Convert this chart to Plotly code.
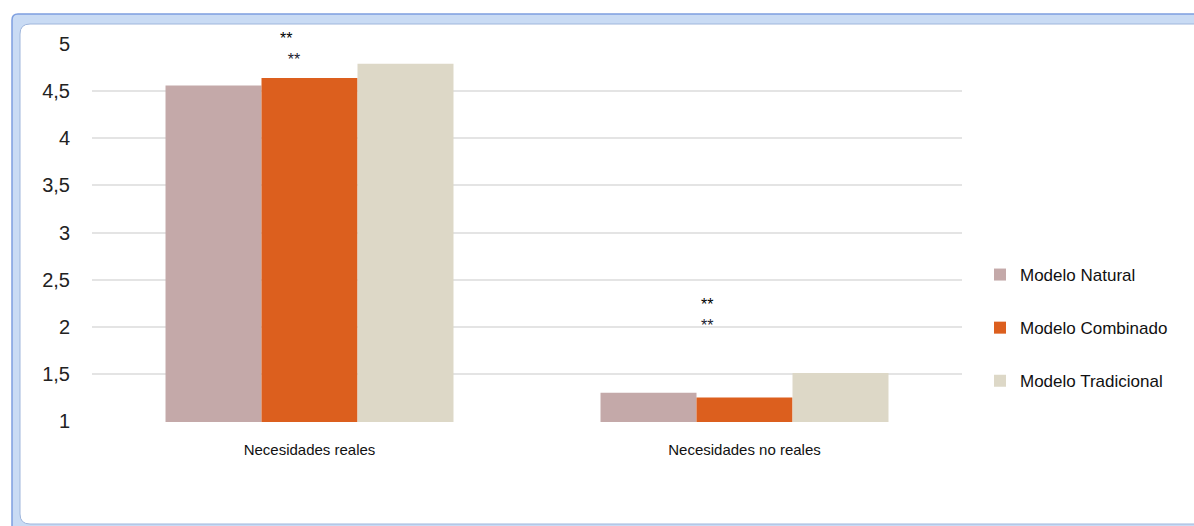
import plotly.graph_objects as go

# Chart data
categories = ["Necesidades reales", "Necesidades no reales"]
series_names = ["Modelo Natural", "Modelo Combinado", "Modelo Tradicional"]
natural = [4.56, 1.30]
combinado = [4.64, 1.25]
tradicional = [4.79, 1.51]
y_ticks = [1, 1.5, 2, 2.5, 3, 3.5, 4, 4.5, 5]

colors = ["#c4a9a9", "#dc5f1e", "#ddd8c7"]
values = [natural, combinado, tradicional]

W, H = 1194, 526
L, R, T, B = 92, 232, 43, 104
PW, PH = W - L - R, H - T - B


def px(x):
    return (x - L) / PW


def py(y):
    return (H - B - y) / PH


fig = go.Figure()
for i, (name, vals) in enumerate(zip(series_names, values)):
    fig.add_trace(go.Bar(
        x=categories, y=vals, name=name,
        marker=dict(color=colors[i], line=dict(width=0)),
        legendgroup=name,
    ))

# significance markers: two stacked "**" lines per group
star_blocks = [
    # (left x in px, block centre y in px, indent of second line)
    (278, 49.5, "&nbsp;&#8201;"),
    (699, 315.0, ""),
]
annotations = []
for sx, sy, indent in star_blocks:
    annotations.append(dict(
        x=px(sx), y=py(sy), xref="paper", yref="paper",
        xanchor="left", yanchor="middle", align="left",
        text=f"**<br>{indent}<span style='color:#1c1c30'>**</span>",
        showarrow=False,
        font=dict(family="Liberation Sans", size=16, color="#000000"),
    ))


def rounded_rect(x0, y0, x1, y1, r):
    # outline with rounded left-hand corners, converted to paper units
    pts = [
        f"M {px(x0 + r)} {py(y0)}",
        f"L {px(x1)} {py(y0)}",
        f"L {px(x1)} {py(y1)}",
        f"L {px(x0 + r)} {py(y1)}",
        f"Q {px(x0)} {py(y1)} {px(x0)} {py(y1 - r)}",
        f"L {px(x0)} {py(y0 + r)}",
        f"Q {px(x0)} {py(y0)} {px(x0 + r)} {py(y0)} Z",
    ]
    return " ".join(pts)


shapes = [
    dict(type="path", xref="paper", yref="paper", layer="below",
         path=rounded_rect(12, 14, 1210, 532, 6),
         fillcolor="#c9dbf4", line=dict(color="#7e9fe0", width=1.5)),
    dict(type="path", xref="paper", yref="paper", layer="below",
         path=rounded_rect(20, 24, 1206, 524, 10),
         fillcolor="#ffffff", line=dict(color="#9fb6dc", width=1)),
]

fig.update_layout(
    width=W, height=H,
    margin=dict(l=L, r=R, t=T, b=B),
    paper_bgcolor="#ffffff", plot_bgcolor="rgba(0,0,0,0)",
    separators=",.",
    barmode="group", bargap=0.338, bargroupgap=0,
    showlegend=True,
    legend=dict(
        x=px(980), y=py(257), xanchor="left", yanchor="top",
        font=dict(family="Liberation Sans", size=17, color="#111111"),
        traceorder="grouped", tracegroupgap=28,
        itemwidth=30, bgcolor="rgba(0,0,0,0)",
    ),
    xaxis=dict(
        showgrid=False, showline=False, ticks="",
        ticklabelstandoff=17,
        tickfont=dict(family="Liberation Sans", size=15, color="#111111"),
        range=[-0.5, 1.5],
    ),
    yaxis=dict(
        range=[0.99, 5.01], tickvals=y_ticks, tickformat=".1~f",
        showgrid=True, gridcolor="#e4e4e4", gridwidth=2,
        zeroline=False, showline=False, ticks="",
        ticklabelstandoff=21,
        tickfont=dict(family="Liberation Sans", size=20, color="#222222"),
    ),
    shapes=shapes,
    annotations=annotations,
)

fig.write_html("out.html")
